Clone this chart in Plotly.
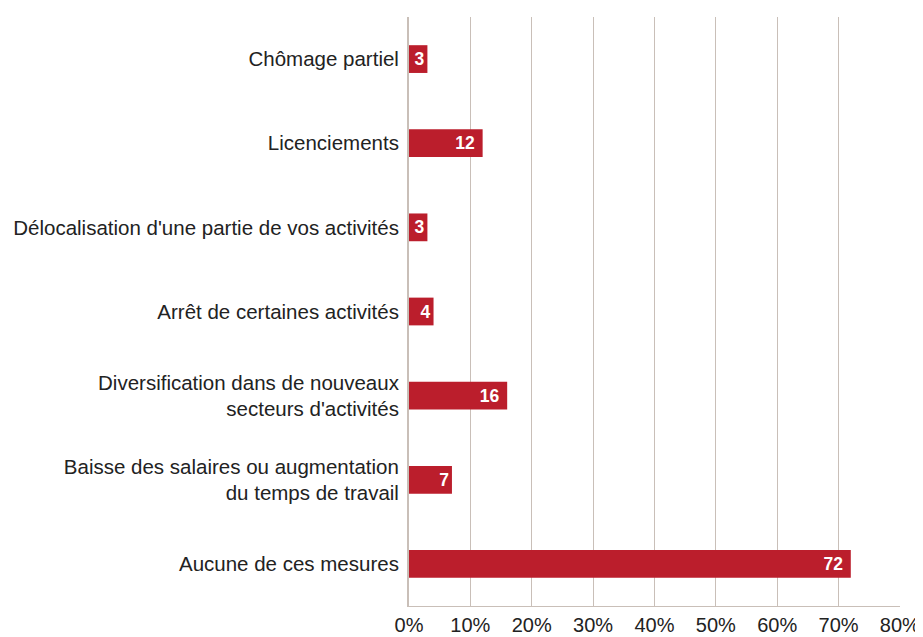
import plotly.graph_objects as go

categories = [
    "Chômage partiel",
    "Licenciements",
    "Délocalisation d'une partie de vos activités",
    "Arrêt de certaines activités",
    "Diversification dans de nouveaux<br>secteurs d'activités",
    "Baisse des salaires ou augmentation<br>du temps de travail",
    "Aucune de ces mesures",
]
values = [3, 12, 3, 4, 16, 7, 72]
tick_vals = [0, 10, 20, 30, 40, 50, 60, 70, 80]
tick_text = ["0%", "10%", "20%", "30%", "40%", "50%", "60%", "70%", "80%"]

BAR = "#bb1e2c"
GRID = "#c9bfb8"
FONT = "Liberation Sans, Arial, Helvetica, sans-serif"

labels = [f"{v}\u00a0" if v >= 10 else str(v) for v in values]

fig = go.Figure(go.Bar(
    y=categories,
    x=values,
    orientation="h",
    marker=dict(color=BAR, line=dict(width=0)),
    width=0.33,
    text=labels,
    textposition="inside",
    insidetextanchor="end",
    textfont=dict(color="white", size=17.5, family=FONT, weight="bold"),
    hoverinfo="skip",
))

# page body has an 8px default margin, so the figure is sized to fit inside the window
fig.update_layout(
    width=915,
    height=629,
    margin=dict(l=401, r=23, t=9, b=31),
    paper_bgcolor="white",
    plot_bgcolor="white",
    showlegend=False,
    uniformtext=dict(minsize=17, mode="show"),
    font=dict(family=FONT, color="#222222", size=20.5),
)
fig.update_xaxes(
    range=[0, 80.02],
    tickvals=tick_vals,
    ticktext=tick_text,
    showgrid=True,
    gridcolor=GRID,
    gridwidth=1,
    zeroline=False,
    showline=True,
    linecolor=GRID,
    linewidth=1,
    ticks="",
    tickfont=dict(size=20, family=FONT, color="#222222"),
    ticklabelstandoff=1,
    automargin=False,
    fixedrange=True,
)
fig.update_yaxes(
    autorange="reversed",
    showgrid=False,
    zeroline=False,
    showline=True,
    linecolor=GRID,
    linewidth=2,
    ticks="",
    tickfont=dict(size=20.5, family=FONT, color="#222222"),
    ticklabelstandoff=4,
    automargin=False,
    fixedrange=True,
)

fig.write_html("out.html")
